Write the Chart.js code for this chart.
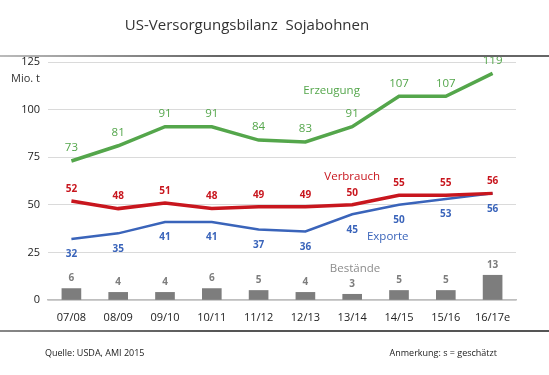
<!DOCTYPE html>
<html>
<head>
<meta charset="utf-8">
<script src="https://cdn.jsdelivr.net/npm/chart.js@4/dist/chart.umd.min.js"></script>
<style>
  body { margin: 0; background: #fff; font-family: "Open Sans", sans-serif; }
  #wrap { position: relative; width: 549px; height: 375px; }
  #chart { position: absolute; left: 0; top: 0; }
  .title { position: absolute; left: 0; width: 494px; top: 14px; text-align: center; font-size: 15px; color: #333; }
  .rule-top { position: absolute; left: 0; top: 55px; width: 549px; height: 2px; background: linear-gradient(to right, #bbb, #666 40%, #666); }
  .rule-bottom { position: absolute; left: 0; top: 330px; width: 549px; height: 2px; background: linear-gradient(to right, #888, #555 40%, #555); }
  .foot { position: absolute; top: 346px; font-size: 9px; color: #222; }
</style>
</head>
<body>
<div id="wrap">
  <canvas id="chart" width="549" height="375"></canvas>
  <div class="title">US-Versorgungsbilanz&nbsp; Sojabohnen</div>
  <div class="rule-top"></div>
  <div class="rule-bottom"></div>
  <div class="foot" style="left:45px">Quelle: USDA, AMI 2015</div>
  <div class="foot" style="right:52px">Anmerkung: s = geschätzt</div>
</div>
<script>
const seasons = ['07/08', '08/09', '09/10', '10/11', '11/12', '12/13', '13/14', '14/15', '15/16', '16/17e'];
const erzeugung = [73, 81, 91, 91, 84, 83, 91, 107, 107, 119];
const verbrauch = [52, 48, 51, 48, 49, 49, 50, 55, 55, 56];
const exporte = [32, 35, 41, 41, 37, 36, 45, 50, 53, 56];
const bestaende = [6, 4, 4, 6, 5, 4, 3, 5, 5, 13];
const yTicks = [0, 25, 50, 75, 100, 125];

const green = 'rgb(84, 166, 75)';
const red = 'rgb(200, 22, 30)';
const blue = 'rgb(58, 100, 186)';
const grey = 'rgb(125, 125, 125)';

// value labels + series names, drawn from the scales
const labelPlugin = {
    id: 'labels',
    afterDatasetsDraw(chart) {
        const ctx = chart.ctx;
        const x = chart.scales.x, y = chart.scales.y;
        ctx.save();
        ctx.textAlign = 'center';
        ctx.textBaseline = 'middle';
        chart.data.datasets.forEach((ds, i) => {
            const meta = chart.getDatasetMeta(i);
            ctx.fillStyle = ds.labelColor;
            ctx.font = ds.labelFont;
            meta.data.forEach((el, j) => {
                ctx.fillText(String(ds.data[j]), el.x, el.y + ds.labelOffset);
            });
        });
        // series names
        const names = [
            ['Erzeugung', 5.56, 110, green],
            ['Verbrauch', 6.0, 65, red],
            ['Exporte', 6.76, 33, blue],
            ['Bestände', 6.06, 16.3, 'rgb(140,140,140)']
        ];
        ctx.font = '11.5px "Open Sans"';
        names.forEach(n => {
            ctx.fillStyle = n[3];
            ctx.fillText(n[0], x.getPixelForValue(n[1]), y.getPixelForValue(n[2]));
        });
        // unit
        ctx.fillStyle = '#333';
        ctx.font = '11px "Open Sans"';
        ctx.textAlign = 'right';
        ctx.fillText('Mio. t', 40, y.getPixelForValue(125) + 17);
        ctx.restore();
    }
};

new Chart(document.getElementById('chart'), {
    data: {
        labels: seasons,
        datasets: [
            {
                type: 'line', label: 'Erzeugung', data: erzeugung,
                borderColor: green, borderWidth: 3.5, pointRadius: 0, tension: 0,
                labelColor: green, labelFont: '11.5px "Open Sans"', labelOffset: -13
            },
            {
                type: 'line', label: 'Verbrauch', data: verbrauch,
                borderColor: red, borderWidth: 3.5, pointRadius: 0, tension: 0,
                labelColor: red, labelFont: 'bold 10px "Open Sans"', labelOffset: -12
            },
            {
                type: 'line', label: 'Exporte', data: exporte,
                borderColor: blue, borderWidth: 2.5, pointRadius: 0, tension: 0,
                labelColor: blue, labelFont: 'bold 10px "Open Sans"', labelOffset: 15.5
            },
            {
                type: 'bar', label: 'Bestände', data: bestaende,
                backgroundColor: grey, barThickness: 19,
                labelColor: grey, labelFont: 'bold 10px "Open Sans"', labelOffset: -10
            }
        ]
    },
    options: {
        responsive: false,
        animation: false,
        layout: { padding: { left: 0, right: 33, top: 62, bottom: 51 } },
        plugins: { legend: { display: false }, tooltip: { enabled: false } },
        scales: {
            x: {
                offset: true,
                grid: { display: false },
                border: { color: '#bfbfbf', width: 1.5 },
                ticks: { color: '#222', font: { family: 'Open Sans', size: 11 }, padding: 3 },
                afterFit(s) { s.height = 24; }
            },
            y: {
                min: 0, max: 125,
                afterBuildTicks(s) { s.ticks = yTicks.map(v => ({ value: v })); },
                grid: { color: '#dadada', drawTicks: false },
                border: { display: false },
                ticks: { color: '#222', font: { family: 'Open Sans', size: 11 }, padding: 8 },
                afterFit(s) { s.width = 48; }
            }
        }
    },
    plugins: [labelPlugin]
});
</script>
</body>
</html>
